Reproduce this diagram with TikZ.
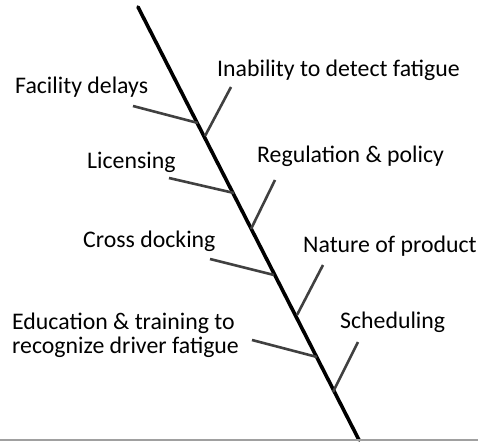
\documentclass[tikz,border=0pt]{standalone}
\usepackage{fontspec}
\setmainfont{Carlito}
\definecolor{branchgray}{HTML}{404040}
\definecolor{rulegray}{HTML}{A0A0A0}
\begin{document}
\begin{tikzpicture}[x=1pt,y=-1pt,
  spine/.style={line width=3.6pt,black,line cap=round},
  bone/.style={line width=2.6pt,branchgray},
  lbl/.style={anchor=base west,inner sep=0pt,font=\fontsize{23.8}{24}\selectfont,text=black},
  baseline/.style={line width=1.2pt,rulegray}]
\useasboundingbox (0,0) rectangle (478,441);
% spine
\coordinate (head) at (138,7);
\coordinate (tail) at (359,440);
\draw[spine] (head) -- (tail);
% bottom rule
\coordinate (rl) at (0,440);
\coordinate (rr) at (478,440);
\draw[baseline] (rl) -- (rr);
% branch coordinates
\coordinate (fa) at (133,106); \coordinate (fb) at (198,123);
\coordinate (ia) at (231,87);  \coordinate (ib) at (205,136);
\coordinate (la) at (169,178); \coordinate (lb) at (234,193);
\coordinate (ra) at (275,180); \coordinate (rb) at (251,229);
\coordinate (ca) at (210,259); \coordinate (cb) at (274,275);
\coordinate (na) at (323,265); \coordinate (nb) at (297,315);
\coordinate (ea) at (252,340); \coordinate (eb) at (317,357);
\coordinate (sa) at (358,342); \coordinate (sb) at (333,392);
\foreach \p in {f,i,l,r,c,n,e,s}{\draw[bone] (\p a) -- (\p b);}
% labels
\node[lbl] (tf) at (15,93) {Facility delays};
\node[lbl] (ti) at (217,77) {Inability to detect fatigue};
\node[lbl] (tl) at (87,168) {Licensing};
\node[lbl] (tr) at (257,162) {Regulation \& policy};
\node[lbl] (tc) at (83,247) {Cross docking};
\node[lbl] (tn) at (303,252) {Nature of product};
\node[lbl] (te1) at (12,329) {Education \& training to};
\node[lbl] (te2) at (12,353) {recognize driver fatigue};
\node[lbl] (ts) at (340,328) {Scheduling};
\end{tikzpicture}
\end{document}
